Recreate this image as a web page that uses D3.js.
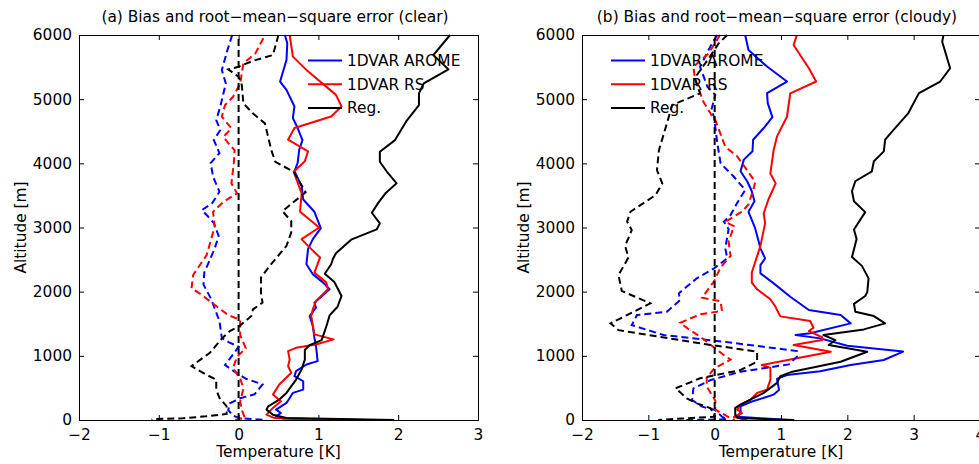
<!DOCTYPE html>
<html>
<head>
<meta charset="utf-8">
<script src="https://cdn.jsdelivr.net/npm/d3@7"></script>
<style>
  body { margin: 0; background: #fff; }
  svg text { font-family: "DejaVu Sans", sans-serif; font-size: 15.4px; fill: #000; }
</style>
</head>
<body>
<div id="chart"></div>
<script>
// [temperature K, altitude m]
// (a) clear
const aAromeRmse = [[0.58,6000],[0.61,5870],[0.60,5611],[0.52,5275],[0.60,5145],[0.70,4886],[0.68,4705],[0.74,4550],[0.80,4362],[0.76,4213],[0.74,4006],[0.70,3876],[0.79,3643],[0.81,3436],[0.95,3245],[1.03,2990],[0.93,2819],[0.87,2662],[0.85,2428],[0.93,2272],[1.06,2141],[1.14,2037],[0.95,1829],[0.97,1750],[0.89,1620],[0.93,1464],[0.95,1282],[0.97,1151],[0.99,917],[0.85,865],[0.72,761],[0.70,683],[0.81,604],[0.81,474],[0.68,422],[0.60,266],[0.47,162],[0.53,109],[0.47,57],[0.55,25],[1.6,0]];
const aRsRmse = [[0.64,6000],[0.68,5663],[0.85,5456],[1.22,5067],[1.29,4886],[1.16,4731],[0.70,4550],[0.62,4368],[0.87,4187],[0.83,4032],[0.69,3869],[0.79,3532],[0.77,3245],[1.01,3000],[0.79,2819],[0.87,2714],[1.02,2532],[0.95,2297],[1.10,2141],[1.12,2037],[0.97,1855],[0.93,1724],[0.91,1620],[0.95,1334],[1.19,1256],[0.97,1177],[0.72,1125],[0.62,1073],[0.64,943],[0.62,839],[0.66,735],[0.51,552],[0.43,396],[0.53,292],[0.43,188],[0.35,83],[0.45,30],[1.1,0]];
const aRegRmse = [[2.65,6000],[2.44,5687],[2.63,5464],[2.32,5246],[2.26,5090],[2.26,4908],[2.10,4653],[1.96,4362],[1.77,4180],[1.77,4024],[1.87,3850],[1.98,3688],[1.84,3532],[1.75,3384],[1.67,3230],[1.77,3064],[1.73,2970],[1.41,2810],[1.22,2600],[1.18,2506],[1.16,2428],[1.08,2280],[1.20,2150],[1.29,1933],[1.24,1765],[1.14,1630],[1.11,1500],[1.07,1351],[1.04,1246],[0.89,1168],[0.83,1090],[0.83,943],[0.79,787],[0.72,630],[0.60,422],[0.51,318],[0.37,214],[0.35,162],[0.43,83],[0.6,30],[1.95,0]];
const aAromeBias = [[-0.08,6000],[-0.14,5765],[-0.21,5453],[-0.16,5246],[-0.23,4881],[-0.28,4674],[-0.23,4518],[-0.31,4362],[-0.24,4160],[-0.35,4003],[-0.32,3791],[-0.24,3557],[-0.33,3380],[-0.46,3272],[-0.40,3194],[-0.31,3069],[-0.25,2870],[-0.30,2670],[-0.43,2297],[-0.44,2110],[-0.35,1900],[-0.29,1710],[-0.24,1540],[-0.21,1280],[-0.12,1210],[0.00,1142],[-0.07,1021],[-0.17,857],[-0.02,727],[0.10,639],[0.30,555],[0.20,400],[0.02,338],[-0.11,260],[-0.13,156],[-0.07,67],[0.02,30],[0.35,0]];
const aRsBias = [[0.31,5950],[0.21,5713],[0.06,5557],[0.02,5246],[-0.07,5037],[-0.17,4908],[-0.21,4726],[-0.09,4545],[-0.19,4414],[-0.11,4284],[-0.05,4206],[-0.06,4000],[-0.09,3688],[-0.02,3532],[-0.19,3401],[-0.32,3245],[-0.30,3012],[-0.40,2571],[-0.57,2259],[-0.59,2052],[-0.46,1948],[-0.27,1765],[-0.13,1636],[0.02,1558],[0.02,1324],[0.09,1117],[-0.02,987],[-0.07,805],[0.02,650],[0.06,494],[0.02,285],[0.04,156],[0.08,31],[-0.05,0]];
const aRegBias = [[0.50,6000],[0.43,5687],[0.18,5598],[0.00,5505],[-0.13,5464],[0.00,5349],[0.04,5219],[0.06,4934],[0.18,4778],[0.33,4622],[0.37,4414],[0.41,4206],[0.46,4024],[0.69,3869],[0.84,3550],[0.55,3254],[0.66,3099],[0.66,2923],[0.60,2714],[0.39,2402],[0.28,2219],[0.28,1985],[0.30,1829],[0.18,1724],[0.16,1620],[0.01,1464],[-0.11,1386],[-0.20,1282],[-0.36,1047],[-0.59,839],[-0.41,709],[-0.28,630],[-0.28,474],[-0.24,344],[-0.15,214],[-0.15,94],[-0.41,57],[-0.70,26],[-1.07,16],[-1.09,5]];
// (b) cloudy
const bAromeRmse = [[0.46,6000],[0.51,5767],[0.79,5508],[1.09,5275],[0.79,5094],[0.80,4938],[0.87,4720],[0.74,4550],[0.58,4368],[0.57,4187],[0.44,4058],[0.39,3876],[0.49,3721],[0.56,3565],[0.60,3410],[0.51,3245],[0.61,2990],[0.69,2675],[0.76,2519],[0.69,2415],[0.69,2285],[0.89,2129],[1.14,1921],[1.42,1714],[1.90,1636],[2.05,1506],[1.44,1351],[1.22,1324],[1.59,1272],[2.00,1158],[2.84,1066],[2.55,935],[2.05,857],[1.59,761],[1.09,701],[0.94,640],[0.97,467],[0.89,396],[0.54,280],[0.39,214],[0.39,120],[0.35,50],[1.1,0]];
const bRsRmse = [[1.24,6000],[1.19,5845],[1.42,5482],[1.53,5275],[1.14,5090],[1.09,4726],[0.94,4420],[0.89,4213],[0.84,3843],[0.92,3688],[0.81,3436],[0.74,3220],[0.76,3064],[0.69,2714],[0.56,2298],[0.56,2141],[0.64,2037],[0.84,1881],[0.91,1776],[0.99,1615],[1.44,1542],[1.49,1438],[1.42,1386],[1.62,1290],[1.62,1246],[1.19,1168],[1.75,1064],[1.24,961],[0.71,857],[0.84,813],[0.84,630],[0.79,474],[0.64,422],[0.54,318],[0.39,240],[0.34,162],[0.41,109],[0.29,47],[0.49,0]];
const bRegRmse = [[3.45,6000],[3.43,5896],[3.55,5482],[3.40,5275],[3.08,5094],[2.92,4783],[2.72,4550],[2.57,4368],[2.55,4187],[2.40,4032],[2.37,3876],[2.12,3721],[2.07,3565],[2.10,3410],[2.27,3240],[2.10,2970],[2.14,2819],[2.07,2540],[2.22,2402],[2.32,2207],[2.30,1990],[2.27,1933],[2.10,1810],[2.12,1688],[2.40,1620],[2.57,1506],[2.25,1412],[1.64,1324],[1.82,1246],[1.72,1168],[2.30,1064],[1.90,908],[1.17,753],[0.99,683],[0.94,578],[0.74,422],[0.59,344],[0.39,240],[0.31,188],[0.31,83],[0.35,30],[1.2,0]];
const bAromeBias = [[0.04,6000],[-0.04,5870],[-0.22,5505],[-0.11,5193],[0.01,5067],[-0.05,4834],[-0.01,4726],[0.04,4311],[0.09,4000],[0.29,3791],[0.46,3584],[0.34,3384],[0.24,3194],[0.14,3090],[0.21,2975],[0.16,2675],[0.19,2519],[-0.01,2363],[-0.27,2207],[-0.54,1974],[-0.52,1870],[-0.72,1688],[-1.17,1636],[-1.25,1480],[-0.77,1324],[0.14,1220],[1.24,1075],[1.24,987],[1.12,867],[0.39,753],[-0.06,623],[-0.32,494],[-0.34,312],[-0.19,208],[0.01,156],[0.11,52],[0.19,10],[-0.45,0]];
const bRsBias = [[0.08,6000],[-0.09,5715],[-0.32,5505],[-0.30,5330],[-0.17,4960],[-0.02,4705],[0.01,4674],[0.16,4258],[0.34,4109],[0.61,3713],[0.59,3617],[0.51,3358],[0.41,3245],[0.16,3090],[0.29,3021],[0.21,2778],[0.24,2558],[0.09,2380],[-0.01,2160],[-0.19,1907],[0.09,1850],[0.11,1700],[-0.22,1646],[-0.52,1516],[-0.40,1420],[-0.22,1300],[0.16,995],[0.24,943],[-0.01,800],[-0.12,656],[-0.12,526],[0.01,300],[0.01,160],[0.19,57],[0.30,0]];
const bRegBias = [[0.19,6000],[0.06,5870],[-0.10,5620],[-0.30,5330],[-0.22,5090],[-0.64,4910],[-0.72,4622],[-0.84,4206],[-0.87,3895],[-0.79,3688],[-0.89,3506],[-1.27,3245],[-1.32,3090],[-1.25,2960],[-1.35,2714],[-1.30,2532],[-1.45,2259],[-1.40,2011],[-0.97,1818],[-1.57,1506],[-1.45,1400],[-0.22,1195],[0.64,1064],[0.64,908],[0.39,779],[-0.22,650],[-0.59,494],[-0.42,338],[-0.27,260],[-0.06,182],[0.00,52],[-0.62,15],[-0.85,0]];
const zeroLine = [[0,0],[0,6000]];

const names = ["1DVAR AROME", "1DVAR RS", "Reg."];
const colors = ["#0000ff", "#ff0000", "#000000"];
const yTicks = [0, 1000, 2000, 3000, 4000, 5000, 6000];

const panels = [
  { title: "(a) Bias and root\u2212mean\u2212square error (clear)", xDomain: [-2, 3], xRange: [79, 478],
    titleX: 275, rmse: [aAromeRmse, aRsRmse, aRegRmse], bias: [aAromeBias, aRsBias, aRegBias], legX: 308 },
  { title: "(b) Bias and root\u2212mean\u2212square error (cloudy)", xDomain: [-2, 4], xRange: [582, 980],
    titleX: 777, rmse: [bAromeRmse, bRsRmse, bRegRmse], bias: [bAromeBias, bRsBias, bRegBias], legX: 611 }
];

const svg = d3.select("#chart").append("svg")
  .attr("width", 979).attr("height", 464);

const yTop = 35, yBottom = 420;

panels.forEach(function (p) {
  var x = d3.scaleLinear().domain(p.xDomain).range(p.xRange);
  var y = d3.scaleLinear().domain([0, 6000]).range([yBottom, yTop]);
  var g = svg.append("g");

  var line = d3.line().x(d => x(d[0])).y(d => y(d[1]));

  // rmse (solid)
  p.rmse.forEach(function (c, i) {
    g.append("path").datum(c).attr("d", line)
      .attr("fill", "none").attr("stroke", colors[i]).attr("stroke-width", 2)
      .attr("stroke-linejoin", "round");
  });
  // bias (dashed)
  p.bias.forEach(function (c, i) {
    g.append("path").datum(c).attr("d", line)
      .attr("fill", "none").attr("stroke", colors[i]).attr("stroke-width", 2)
      .attr("stroke-dasharray", "7,4");
  });
  g.append("path").datum(zeroLine).attr("d", line)
    .attr("fill", "none").attr("stroke", "#000").attr("stroke-width", 2)
    .attr("stroke-dasharray", "7,4");

  // axes, ticks inward
  var xTicks = d3.range(p.xDomain[0], p.xDomain[1] + 1);
  var fmt = d => d < 0 ? "\u2212" + Math.abs(d) : String(d);
  g.append("g").attr("transform", "translate(0," + yBottom + ")")
    .call(d3.axisBottom(x).tickValues(xTicks).tickSize(-5).tickPadding(9).tickFormat(fmt));
  g.append("g").attr("transform", "translate(0," + yTop + ")")
    .call(d3.axisTop(x).tickValues(xTicks).tickSize(-5).tickFormat(""));
  g.append("g").attr("transform", "translate(" + p.xRange[0] + ",0)")
    .call(d3.axisLeft(y).tickValues(yTicks).tickSize(-5).tickPadding(7).tickFormat(d3.format("d")));
  g.append("g").attr("transform", "translate(" + p.xRange[1] + ",0)")
    .call(d3.axisRight(y).tickValues(yTicks).tickSize(-5).tickFormat(""));
  g.selectAll(".domain").attr("stroke", "#000").attr("stroke-width", 1);
  g.selectAll(".tick line").attr("stroke", "#000");
  g.selectAll(".tick text").attr("font-size", 16.5).attr("font-family", "DejaVu Sans");

  g.append("text").attr("x", p.titleX).attr("y", 22).attr("text-anchor", "middle").text(p.title);
  g.append("text").attr("x", (p.xRange[0] + p.xRange[1]) / 2).attr("y", 457)
    .attr("text-anchor", "middle").text("Temperature [K]");
  g.append("text").attr("transform", "translate(" + (p.xRange[0] - 53) + "," + (yTop + yBottom) / 2 + ")rotate(-90)")
    .attr("text-anchor", "middle").text("Altitude [m]");

  // legend
  var leg = g.append("g");
  names.forEach(function (n, i) {
    var ly = 60.5 + i * 23.7;
    leg.append("line").attr("x1", p.legX).attr("x2", p.legX + 34).attr("y1", ly).attr("y2", ly)
      .attr("stroke", colors[i]).attr("stroke-width", 2);
    leg.append("text").attr("x", p.legX + 39).attr("y", ly + 5.5).text(n);
  });
});
</script>
</body>
</html>
